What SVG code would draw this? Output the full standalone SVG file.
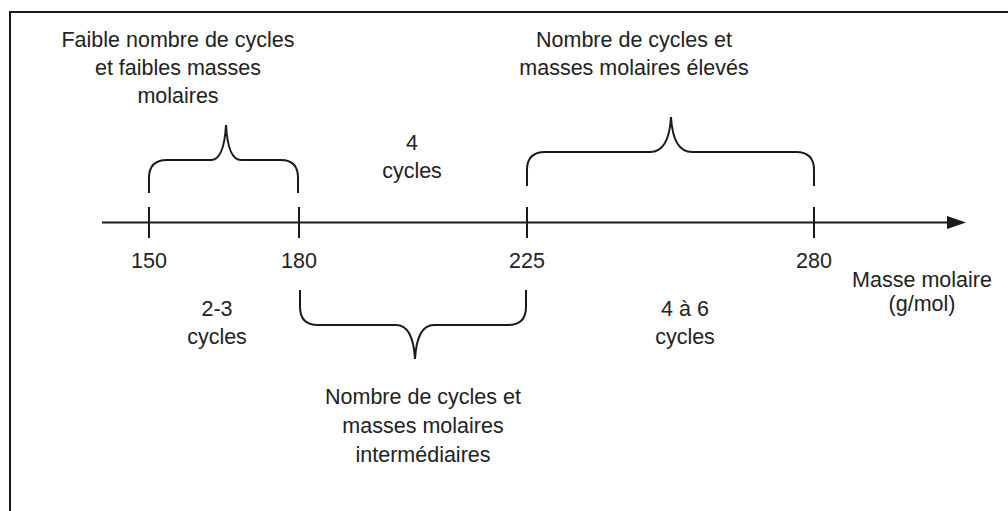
<svg xmlns="http://www.w3.org/2000/svg" width="1008" height="511" viewBox="0 0 1008 511">
<defs>
<style>
.t{font-family:"Liberation Sans",Arial,sans-serif;font-size:21.5px;fill:#222;text-anchor:middle}
.ln{stroke:#1a1a1a;stroke-width:2;fill:none}
</style>
</defs>
<rect width="1008" height="511" fill="#fff"/>
<path class="ln" d="M10,520 V12 H1010"/>
<g id="axis">
<line class="ln" x1="102" y1="222.5" x2="958" y2="222.5"/>
<path d="M947,216 L966,222.5 L947,229 Z" fill="#1a1a1a"/>
<line class="ln" x1="149" y1="207" x2="149" y2="238"/>
<line class="ln" x1="299" y1="207" x2="299" y2="238"/>
<line class="ln" x1="527" y1="207" x2="527" y2="238"/>
<line class="ln" x1="814" y1="207" x2="814" y2="238"/>
<text class="t" x="149" y="268">150</text>
<text class="t" x="299" y="268">180</text>
<text class="t" x="527" y="268">225</text>
<text class="t" x="814" y="268">280</text>
<text class="t" x="922" y="287">Masse molaire</text>
<text class="t" x="922" y="311">(g/mol)</text>
</g>
<g id="connectors">
<path id="brace1" class="ln" d="M149,193 V178 Q149,160 167,160 H211 Q224,160 226,125 Q228,160 241,160 H281 Q298,160 298,178 V193"/>
<path id="brace2" class="ln" d="M527,186 V170 Q527,152 545,152 H650 Q669,152 671,117 Q673,152 692,152 H796 Q814,152 814,170 V186"/>
<path id="brace3" class="ln" d="M300,290 V307 Q300,325 318,325 H396 Q413,325 415,359 Q417,325 434,325 H508 Q526,325 526,307 V290"/>
</g>
<g id="label-low">
<text class="t" x="178" y="47">Faible nombre de cycles</text>
<text class="t" x="178" y="75">et faibles masses</text>
<text class="t" x="178" y="103">molaires</text>
</g>
<g id="label-high">
<text class="t" x="634" y="47">Nombre de cycles et</text>
<text class="t" x="634" y="75">masses molaires élevés</text>
</g>
<g id="label-mid">
<text class="t" x="423" y="404">Nombre de cycles et</text>
<text class="t" x="423" y="433">masses molaires</text>
<text class="t" x="423" y="462">intermédiaires</text>
</g>
<g id="cycles-4">
<text class="t" x="412" y="150">4</text>
<text class="t" x="412" y="178">cycles</text>
</g>
<g id="cycles-23">
<text class="t" x="217" y="316">2-3</text>
<text class="t" x="217" y="344">cycles</text>
</g>
<g id="cycles-46">
<text class="t" x="685" y="316">4 à 6</text>
<text class="t" x="685" y="344">cycles</text>
</g>
</svg>
